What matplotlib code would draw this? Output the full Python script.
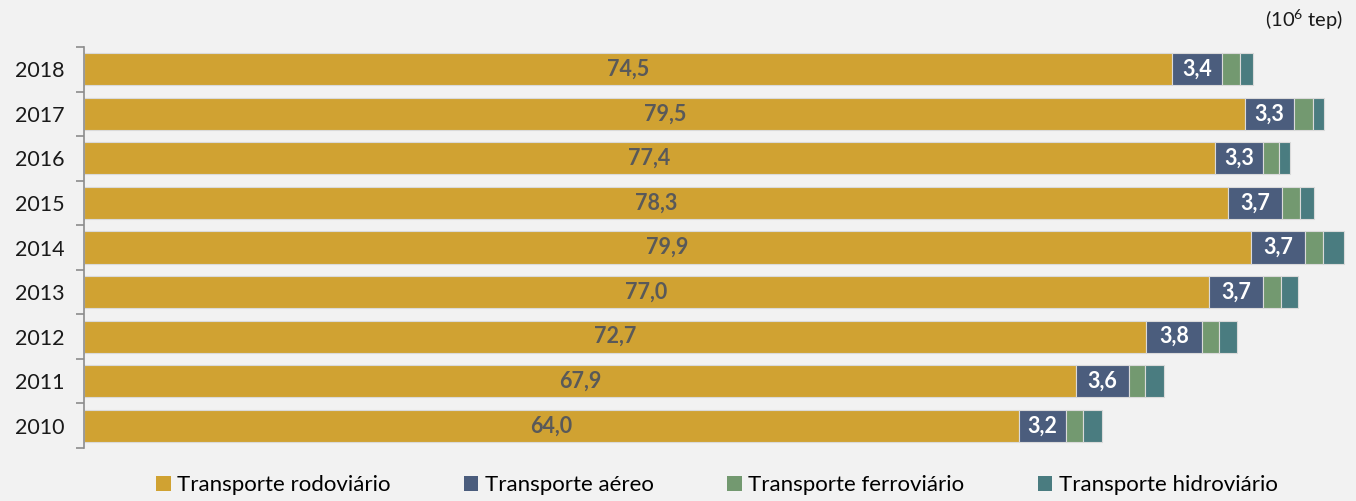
import numpy as np
import matplotlib
matplotlib.use("Agg")
import matplotlib.pyplot as plt
from matplotlib.patches import Patch

plt.rcParams['font.family'] = ['Lato', 'DejaVu Sans']

years = ["2010", "2011", "2012", "2013", "2014", "2015", "2016", "2017", "2018"]
rodoviario = [64.0, 67.9, 72.7, 77.0, 79.9, 78.3, 77.4, 79.5, 74.5]
aereo = [3.2, 3.6, 3.8, 3.7, 3.7, 3.7, 3.3, 3.3, 3.4]
ferroviario = [1.15, 1.15, 1.2, 1.2, 1.2, 1.2, 1.1, 1.3, 1.2]
hidroviario = [1.35, 1.3, 1.25, 1.2, 1.45, 1.0, 0.75, 0.8, 0.9]

series_names = ["Transporte rodoviário", "Transporte aéreo",
                "Transporte ferroviário", "Transporte hidroviário"]
colors = ["#D0A232", "#4B5D7D", "#739970", "#4A7C80"]
bg = "#F2F2F2"

W, H = 1356, 501
fig = plt.figure(figsize=(W / 100, H / 100), dpi=100, facecolor=bg)
ax = fig.add_axes([84 / W, 1 - 448 / H, (1350 - 84) / W, (448 - 47) / H])
ax.set_facecolor(bg)

y = np.arange(len(years))
series = [rodoviario, aereo, ferroviario, hidroviario]
left = np.zeros(len(years))
for vals, col in zip(series, colors):
    ax.barh(y, vals, left=left, height=0.72, color=col,
            edgecolor="#DADADA", linewidth=0.8)
    left = left + np.array(vals)

# value labels for road and air transport
for i in range(len(years)):
    ax.text(rodoviario[i] / 2, y[i], f"{rodoviario[i]:.1f}".replace(".", ","),
            ha="center", va="center", fontsize=15.5, fontweight="bold",
            color="#595959")
    ax.text(rodoviario[i] + aereo[i] / 2, y[i],
            f"{aereo[i]:.1f}".replace(".", ","),
            ha="center", va="center", fontsize=15.5, fontweight="bold",
            color="white")

ax.set_xlim(0, (1350 - 84) / 14.61)
ax.set_ylim(-0.5, len(years) - 0.5)

for s in ["top", "right", "bottom"]:
    ax.spines[s].set_visible(False)
ax.spines["left"].set_color("#8C8C8C")
ax.spines["left"].set_linewidth(1.2)
ax.set_xticks([])

ax.set_yticks(np.arange(-0.5, len(years)), labels=[""] * (len(years) + 1))
ax.tick_params(axis="y", which="major", length=6, width=1.2, color="#8C8C8C")
ax.set_yticks(y, labels=years, minor=True)
ax.tick_params(axis="y", which="minor", length=0, pad=14, labelsize=15.5,
               labelcolor="#1A1A1A")

handles = [Patch(facecolor=c, edgecolor="none") for c in colors]
ax.legend(handles, series_names, loc="center", bbox_to_anchor=(0.5, -0.092),
          ncol=4, frameon=False, fontsize=16, handlelength=0.65,
          handleheight=0.65, handletextpad=0.3, columnspacing=3.3)

fig.text(1343 / W, 1 - 20 / H, r"(10$^{\mathregular{6}}$ tep)", ha="right",
         va="center", fontsize=14.5, color="#1A1A1A")

fig.savefig("out.png", dpi=100, facecolor=bg)
